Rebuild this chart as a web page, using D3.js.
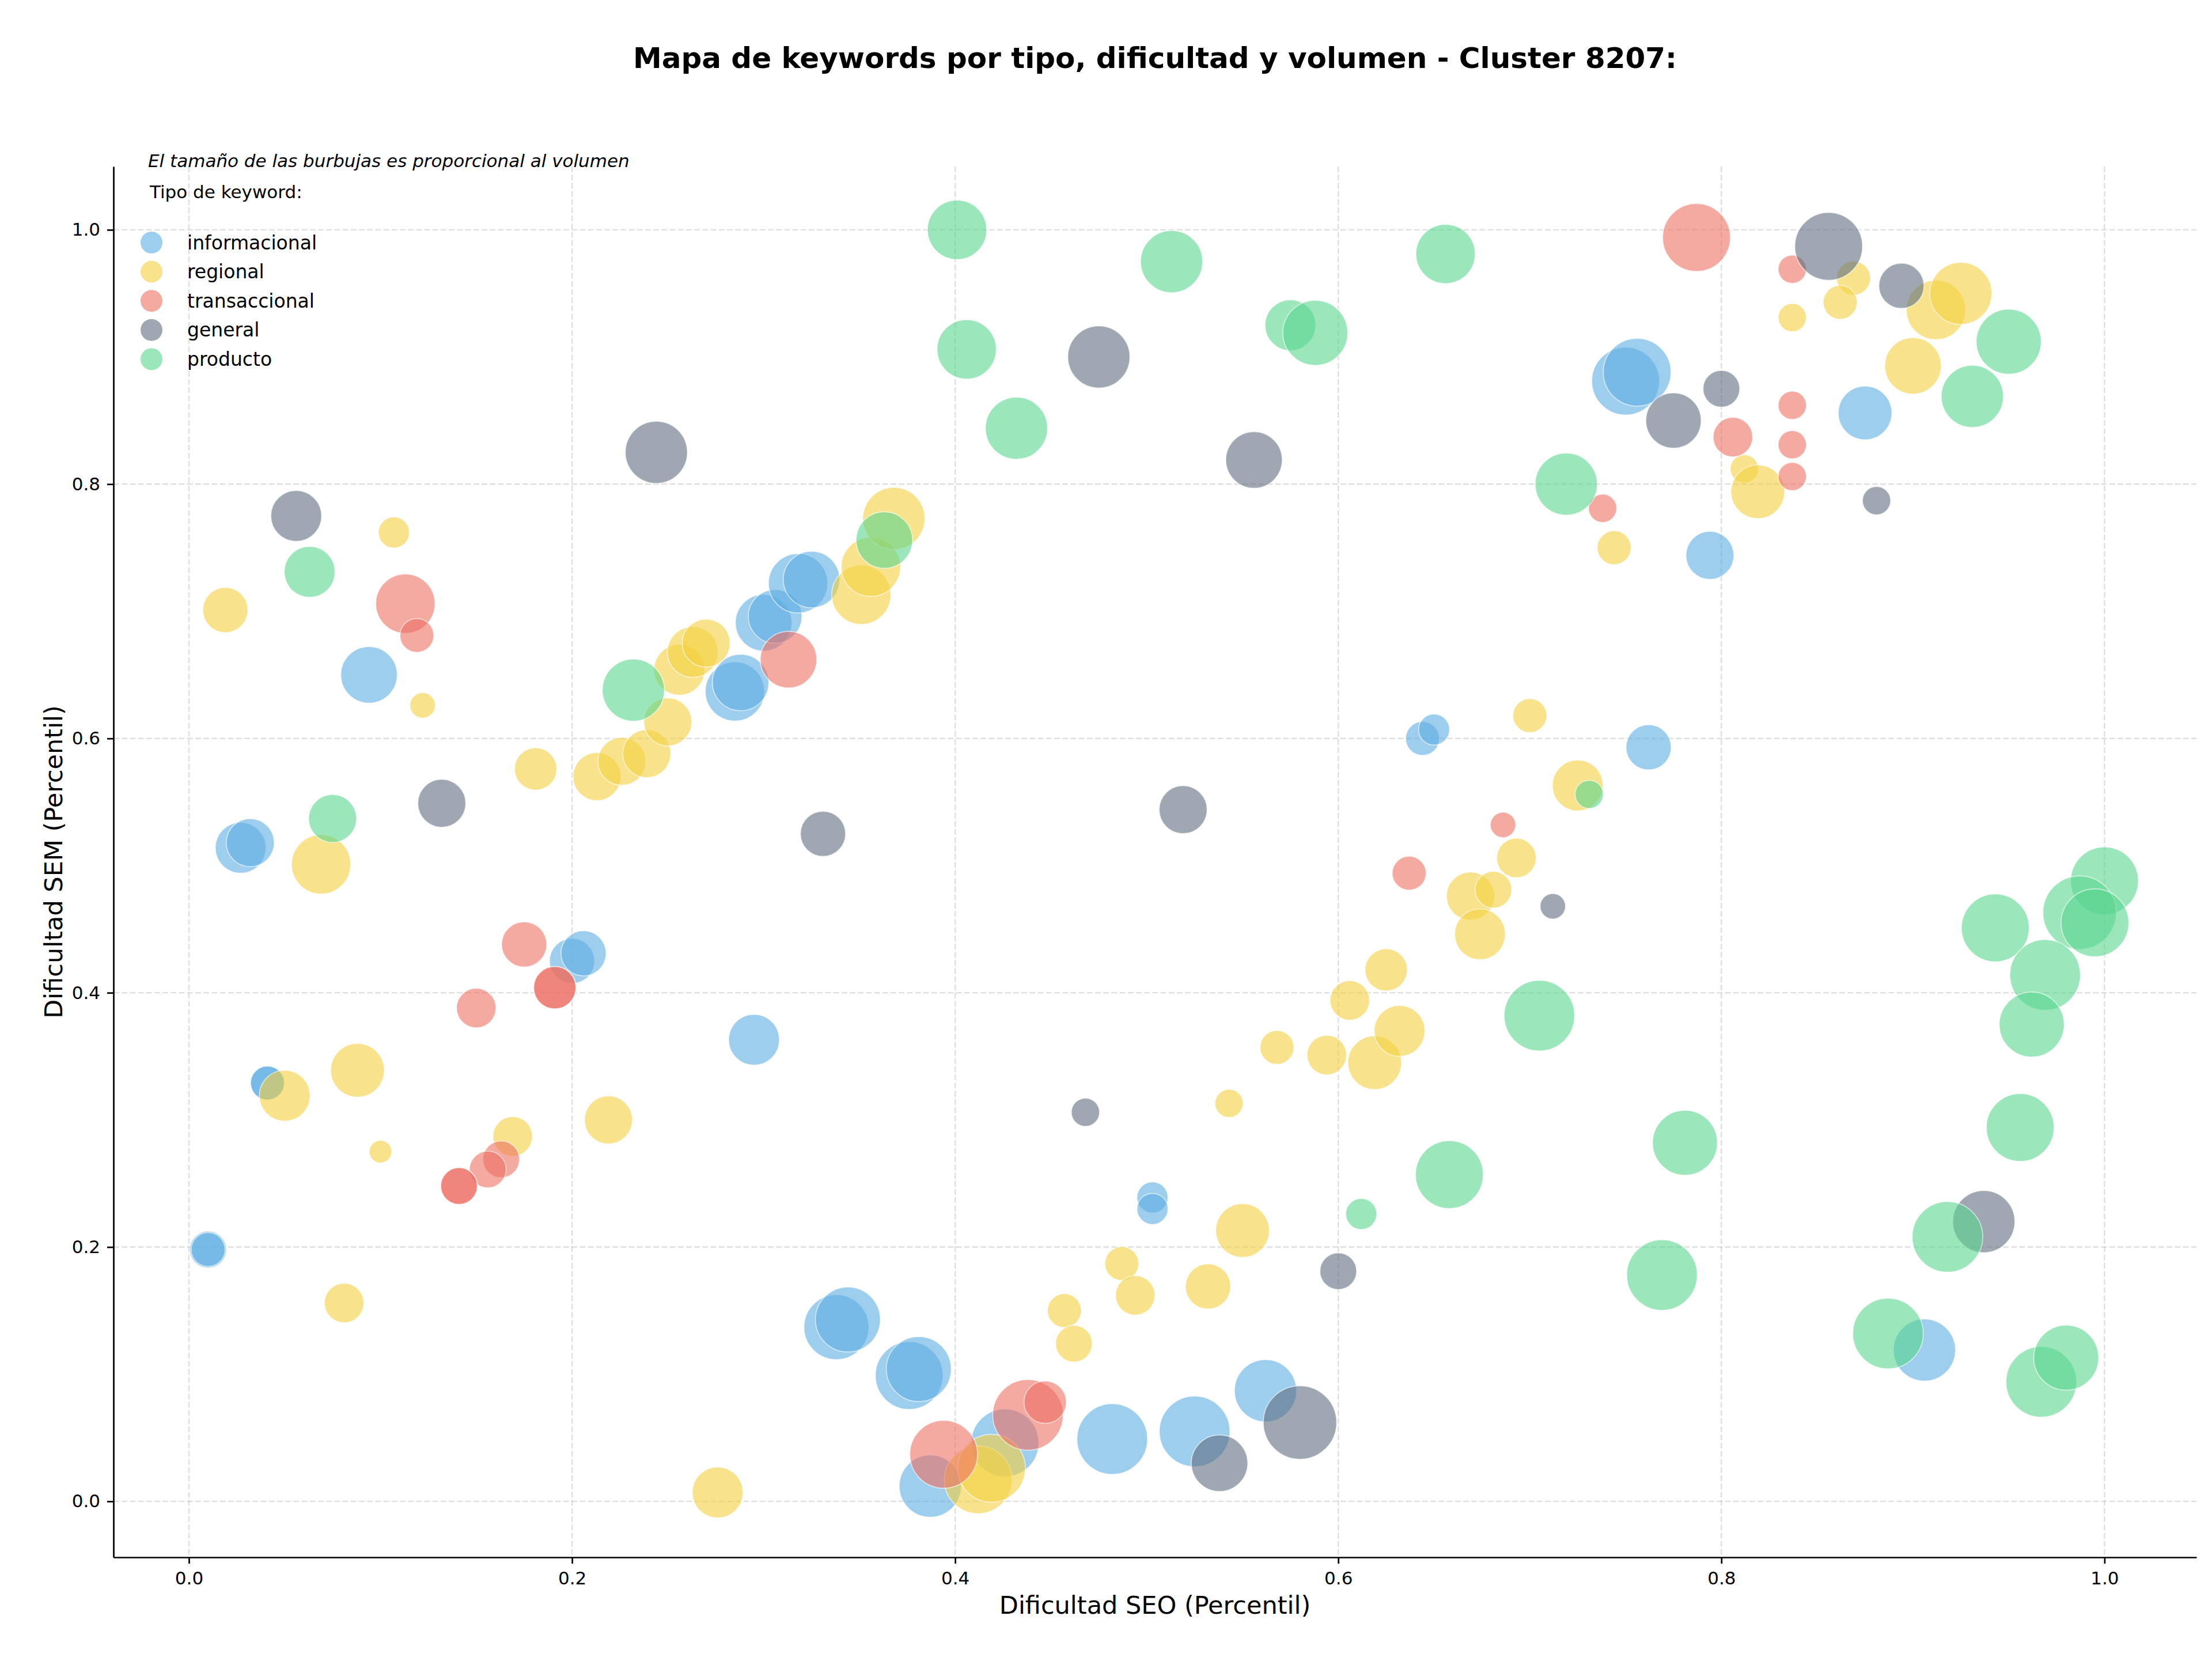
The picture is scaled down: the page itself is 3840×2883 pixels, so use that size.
<!DOCTYPE html>
<html>
  <head>
    <meta charset="utf-8">
    <title>Mapa de keywords</title>
    <script src="https://d3js.org/d3.v7.min.js"></script>
    <style>
      body { margin: 0; background: #fff; font-family: "DejaVu Sans", sans-serif; }
    </style>
  </head>
  <body>
    <svg></svg>
    <script>
      // Tipos de keyword y sus colores
      var categorias = ["informacional", "regional", "transaccional", "general", "producto"];
      var colores = ["#5DADE2", "#F4D03F", "#EC7063", "#5D6D7E", "#58D68D"];

      // [dificultad SEO, dificultad SEM, volumen]
      var informacional = [
        [0.094, 0.650, 4000], [0.027, 0.514, 3240], [0.032, 0.518, 2890], [0.041, 0.329, 1440],
        [0.041, 0.329, 1440], [0.010, 0.198, 1690], [0.010, 0.198, 1440], [0.200, 0.425, 2560],
        [0.206, 0.431, 2560], [0.295, 0.363, 3240], [0.285, 0.637, 4410], [0.288, 0.644, 4000],
        [0.300, 0.691, 4000], [0.306, 0.696, 3610], [0.318, 0.722, 4410], [0.325, 0.725, 4000],
        [0.338, 0.137, 5290], [0.344, 0.143, 5290], [0.376, 0.099, 5760], [0.381, 0.104, 5290],
        [0.387, 0.012, 4840], [0.426, 0.046, 5760], [0.482, 0.049, 6250], [0.503, 0.239, 1210],
        [0.503, 0.230, 1210], [0.525, 0.055, 6250], [0.562, 0.087, 4840], [0.644, 0.600, 1440],
        [0.650, 0.607, 1210], [0.762, 0.593, 2560], [0.750, 0.881, 5760], [0.756, 0.888, 5760],
        [0.794, 0.744, 2890], [0.875, 0.856, 3610], [0.906, 0.119, 4840]
      ];
      var regional = [
        [0.107, 0.762, 1210], [0.019, 0.701, 2560], [0.122, 0.626, 810], [0.069, 0.501, 4410],
        [0.181, 0.576, 2250], [0.213, 0.570, 2890], [0.226, 0.582, 2890], [0.239, 0.588, 2890],
        [0.250, 0.613, 2890], [0.256, 0.654, 3240], [0.263, 0.668, 3240], [0.270, 0.675, 2890],
        [0.351, 0.713, 4410], [0.356, 0.735, 4410], [0.368, 0.773, 4840], [0.050, 0.319, 3240],
        [0.088, 0.339, 3610], [0.100, 0.275, 640], [0.169, 0.287, 1960], [0.219, 0.300, 2890],
        [0.081, 0.156, 1960], [0.276, 0.007, 3240], [0.412, 0.017, 5760], [0.419, 0.026, 5760],
        [0.457, 0.150, 1440], [0.462, 0.124, 1690], [0.487, 0.187, 1440], [0.494, 0.162, 1960],
        [0.532, 0.169, 2560], [0.550, 0.213, 3610], [0.543, 0.313, 1000], [0.568, 0.357, 1440],
        [0.594, 0.351, 1960], [0.606, 0.394, 1960], [0.619, 0.345, 3610], [0.625, 0.418, 2250],
        [0.632, 0.370, 3240], [0.669, 0.476, 2890], [0.681, 0.481, 1690], [0.674, 0.446, 3240],
        [0.693, 0.506, 1960], [0.700, 0.618, 1440], [0.725, 0.563, 3240], [0.744, 0.750, 1440],
        [0.812, 0.812, 1000], [0.819, 0.794, 3610], [0.837, 0.931, 1000], [0.869, 0.962, 1440],
        [0.862, 0.943, 1440], [0.912, 0.937, 4410], [0.925, 0.950, 4840], [0.900, 0.893, 4000]
      ];
      var transaccional = [
        [0.113, 0.706, 4410], [0.119, 0.681, 1440], [0.313, 0.662, 4000], [0.175, 0.438, 2560],
        [0.191, 0.404, 2250], [0.191, 0.404, 2250], [0.150, 0.388, 1960], [0.163, 0.269, 1690],
        [0.156, 0.261, 1690], [0.141, 0.248, 1690], [0.141, 0.248, 1690], [0.394, 0.037, 5760],
        [0.438, 0.068, 6250], [0.447, 0.078, 2250], [0.637, 0.494, 1440], [0.686, 0.532, 810],
        [0.738, 0.781, 1000], [0.787, 0.994, 5760], [0.837, 0.969, 1000], [0.806, 0.837, 1960],
        [0.837, 0.862, 1000], [0.837, 0.831, 1000], [0.837, 0.806, 1000]
      ];
      var general = [
        [0.056, 0.775, 3240], [0.244, 0.825, 4840], [0.132, 0.549, 2890], [0.331, 0.525, 2560],
        [0.475, 0.900, 4840], [0.556, 0.819, 4000], [0.468, 0.306, 1000], [0.538, 0.030, 4000],
        [0.580, 0.062, 6760], [0.600, 0.181, 1690], [0.519, 0.544, 2890], [0.712, 0.468, 810],
        [0.856, 0.987, 5760], [0.894, 0.956, 2560], [0.800, 0.875, 1690], [0.775, 0.850, 3840],
        [0.881, 0.787, 1000], [0.937, 0.220, 4840]
      ];
      var producto = [
        [0.063, 0.731, 3240], [0.075, 0.537, 2890], [0.232, 0.638, 4840], [0.363, 0.756, 4000],
        [0.401, 1.000, 4410], [0.406, 0.906, 4410], [0.432, 0.844, 4840], [0.513, 0.975, 4840],
        [0.575, 0.925, 3240], [0.588, 0.919, 5290], [0.656, 0.981, 4410], [0.719, 0.800, 4840],
        [0.950, 0.912, 5290], [0.931, 0.869, 4840], [0.731, 0.556, 1000], [0.705, 0.382, 6250],
        [0.658, 0.257, 5760], [0.612, 0.226, 1210], [0.781, 0.282, 5290], [0.769, 0.178, 6250],
        [1.000, 0.488, 5760], [0.987, 0.463, 6760], [0.995, 0.455, 5760], [0.943, 0.451, 5760],
        [0.969, 0.414, 6250], [0.962, 0.375, 5290], [0.956, 0.294, 5760], [0.918, 0.208, 6250],
        [0.887, 0.132, 6250], [0.967, 0.094, 6250], [0.980, 0.113, 5290]
      ];
      var series = [informacional, regional, transaccional, general, producto];

      var ticks = [0.0, 0.2, 0.4, 0.6, 0.8, 1.0];

      var width = 3840, height = 2883;
      var plotLeft = 197, plotRight = 3813, plotTop = 289, plotBottom = 2703;

      var svg = d3.select("svg")
        .attr("width", width)
        .attr("height", height)
        .style("font-family", "'DejaVu Sans', sans-serif");

      var x = d3.scaleLinear().domain([-0.0394, 1.048]).range([plotLeft, plotRight]);
      var y = d3.scaleLinear().domain([-0.044, 1.0498]).range([plotBottom, plotTop]);
      var r = d3.scaleSqrt().domain([0, 6760]).range([0, 63.7]);

      // Grid
      var grid = svg.append("g")
        .attr("stroke", "#b0b0b0")
        .attr("stroke-opacity", 0.4)
        .attr("stroke-width", 2.4)
        .attr("stroke-dasharray", "9.9,4.3");
      grid.selectAll(".gx").data(ticks).enter().append("line")
        .attr("x1", function(d) { return x(d); })
        .attr("x2", function(d) { return x(d); })
        .attr("y1", plotTop).attr("y2", plotBottom);
      grid.selectAll(".gy").data(ticks).enter().append("line")
        .attr("y1", function(d) { return y(d); })
        .attr("y2", function(d) { return y(d); })
        .attr("x1", plotLeft).attr("x2", plotRight);

      // Bubbles, one group per type
      series.forEach(function(data, i) {
        svg.append("g").selectAll("circle")
          .data(data)
          .enter().append("circle")
            .attr("cx", function(d) { return x(d[0]); })
            .attr("cy", function(d) { return y(d[1]); })
            .attr("r", function(d) { return r(d[2]); })
            .attr("fill", colores[i])
            .attr("fill-opacity", 0.6)
            .attr("stroke", "#fff")
            .attr("stroke-opacity", 0.6)
            .attr("stroke-width", 1.7);
      });

      // Axes
      var fmt = d3.format(".1f");
      var xAxis = svg.append("g")
        .attr("transform", "translate(0," + plotBottom + ")")
        .call(d3.axisBottom(x).tickValues(ticks).tickFormat(fmt).tickSize(11).tickSizeOuter(0).tickPadding(14));
      var yAxis = svg.append("g")
        .attr("transform", "translate(" + plotLeft + ",0)")
        .call(d3.axisLeft(y).tickValues(ticks).tickFormat(fmt).tickSize(11).tickSizeOuter(0).tickPadding(12));

      [xAxis, yAxis].forEach(function(a) {
        a.selectAll("path").attr("stroke", "#000").attr("stroke-width", 2.7);
        a.selectAll("line").attr("stroke", "#000").attr("stroke-width", 2.7);
        a.selectAll("text")
          .attr("fill", "#000")
          .style("font-family", "'DejaVu Sans', sans-serif")
          .style("font-size", "31px");
      });

      // Axis labels
      svg.append("text")
        .attr("x", (plotLeft + plotRight) / 2)
        .attr("y", 2801)
        .attr("text-anchor", "middle")
        .style("font-size", "43px")
        .text("Dificultad SEO (Percentil)");

      svg.append("text")
        .attr("transform", "translate(93," + (plotTop + plotBottom) / 2 + ") rotate(-90)")
        .attr("dy", "0.35em")
        .attr("text-anchor", "middle")
        .style("font-size", "43px")
        .text("Dificultad SEM (Percentil)");

      // Title
      svg.append("text")
        .attr("x", (plotLeft + plotRight) / 2)
        .attr("y", 118)
        .attr("text-anchor", "middle")
        .style("font-size", "50px")
        .style("font-weight", "bold")
        .text("Mapa de keywords por tipo, dificultad y volumen - Cluster 8207:");

      // Note and legend
      svg.append("text")
        .attr("x", 257)
        .attr("y", 290)
        .style("font-size", "31px")
        .style("font-style", "italic")
        .text("El tamaño de las burbujas es proporcional al volumen");

      svg.append("text")
        .attr("x", 260)
        .attr("y", 344)
        .style("font-size", "31px")
        .text("Tipo de keyword:");

      var legend = svg.append("g").selectAll("g")
        .data(categorias)
        .enter().append("g")
          .attr("transform", function(d, i) { return "translate(263," + (421 + i * 50.6) + ")"; });

      legend.append("circle")
        .attr("r", 19)
        .attr("fill", function(d, i) { return colores[i]; })
        .attr("fill-opacity", 0.6);

      legend.append("text")
        .attr("x", 62)
        .attr("dy", "0.35em")
        .style("font-size", "33px")
        .text(function(d) { return d; });
    </script>
  </body>
</html>
